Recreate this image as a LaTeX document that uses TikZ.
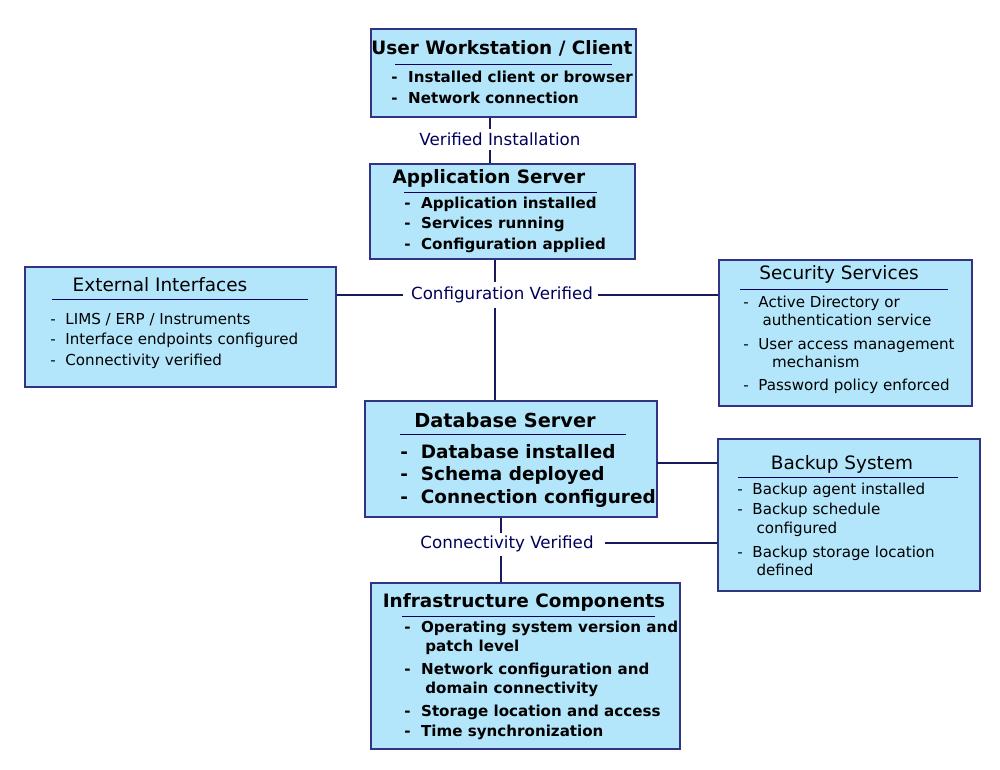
\documentclass[tikz,border=0pt]{standalone}
\usepackage{fontspec}
\setmainfont{DejaVu Sans}
\begin{document}
\begin{tikzpicture}[x=0.02cm,y=-0.02cm,
  box/.style={draw=blue!40!black!80,line width=0.8pt,fill=cyan!30!white,inner sep=0pt},
  ttl/.style={anchor=center,inner sep=0pt,font=\fontsize{10.5}{12}\selectfont},
  itm/.style={anchor=west,inner sep=0pt,align=left,font=\fontsize{8.6}{10.6}\selectfont\bfseries},
  itn/.style={anchor=west,inner sep=0pt,align=left,font=\fontsize{8.6}{10.6}\selectfont},
  ul/.style={draw=blue!40!black,line width=0.5pt},
  con/.style={draw=blue!30!black!90,line width=1.2pt},
  lbl/.style={text=blue!35!black,inner sep=0pt,font=\fontsize{9.5}{11}\selectfont}]
\useasboundingbox (0,0) rectangle (1000,770);
% boxes
\node[box,minimum width=265*0.02cm,minimum height=88*0.02cm] (uw) at (503.5,73) {};
\node[box,minimum width=265*0.02cm,minimum height=95*0.02cm] (as) at (502.5,211.5) {};
\node[box,minimum width=311*0.02cm,minimum height=120*0.02cm] (ei) at (180.5,327) {};
\node[box,minimum width=253*0.02cm,minimum height=146*0.02cm] (ss) at (845.5,333) {};
\node[box,minimum width=292*0.02cm,minimum height=116*0.02cm] (db) at (511,459) {};
\node[box,minimum width=262*0.02cm,minimum height=152*0.02cm] (bs) at (849,515) {};
\node[box,minimum width=309*0.02cm,minimum height=166*0.02cm] (ic) at (525.5,666) {};
% user workstation
\node[ttl,font=\fontsize{10.5}{12}\selectfont\bfseries] (uwt) at (502,48) {User Workstation / Client};
\draw[ul] (395,64) -- (612,64);
\node[itm] (uw1) at (391,77) {-\ \ Installed client or browser};
\node[itm] (uw2) at (391,98) {-\ \ Network connection};
% application server
\node[ttl,font=\fontsize{10.5}{12}\selectfont\bfseries] (ast) at (489,178) {Application Server};
\draw[ul] (404,192) -- (597,192);
\node[itm] (as1) at (404,204) {-\ \ Application installed};
\node[itm] (as2) at (404,224) {-\ \ Services running};
\node[itm] (as3) at (404,245) {-\ \ Configuration applied};
% external
\node[ttl] (eit) at (160,285) {External Interfaces};
\draw[ul] (52,299) -- (308,299);
\node[itn] (ei1) at (50,320) {-\ \ LIMS / ERP / Instruments};
\node[itn] (ei2) at (50,340) {-\ \ Interface endpoints configured};
\node[itn] (ei3) at (50,361) {-\ \ Connectivity verified};
% security
\node[ttl] (sst) at (839,274) {Security Services};
\draw[ul] (740,289) -- (948,289);
\node[itn] (ss1) at (743,311) {-\ \ Active Directory or\\\ \ \ \ authentication service};
\node[itn] (ss2) at (743,353) {-\ \ User access management\\\ \ \ \ \ \ mechanism};
\node[itn] (ss3) at (743,386) {-\ \ Password policy enforced};
% database
\node[ttl,font=\fontsize{11}{13}\selectfont\bfseries] (dbt) at (505,420) {Database Server};
\draw[ul] (400,434) -- (626,434);
\node[itm,font=\fontsize{10.5}{12}\selectfont\bfseries] (db1) at (400,452) {-\ \ Database installed};
\node[itm,font=\fontsize{10.5}{12}\selectfont\bfseries] (db2) at (400,475) {-\ \ Schema deployed};
\node[itm,font=\fontsize{10.5}{12}\selectfont\bfseries] (db3) at (400,498) {-\ \ Connection configured};
% backup
\node[ttl] (bst) at (842,464) {Backup System};
\draw[ul] (738,477) -- (958,477);
\node[itn] (bs1) at (737,490) {-\ \ Backup agent installed};
\node[itn] (bs2) at (737,520) {-\ \ Backup schedule\\\ \ \ \ configured};
\node[itn] (bs3) at (737,561) {-\ \ Backup storage location\\\ \ \ \ defined};
% infrastructure
\node[ttl,font=\fontsize{10.5}{12}\selectfont\bfseries] (ict) at (524,602) {Infrastructure Components};
\draw[ul] (402,616) -- (655,616);
\node[itm] (ic1) at (404,638) {-\ \ Operating system version and\\\ \ \ \ patch level};
\node[itm] (ic2) at (404,680) {-\ \ Network configuration and\\\ \ \ \ domain connectivity};
\node[itm] (ic3) at (404,712) {-\ \ Storage location and access};
\node[itm] (ic4) at (404,732) {-\ \ Time synchronization};
% connector labels
\node[lbl] (l1) at (500,139) {Verified Installation};
\node[lbl] (l2) at (502,295) {Configuration Verified};
\node[lbl] (l3) at (507,544) {Connectivity Verified};
% connectors
\coordinate (a1) at (490,129); \coordinate (a2) at (490,150);
\draw[con] (uw.south -| a1) -- (a1);
\draw[con] (a2) -- (as.north -| a2);
\coordinate (b1) at (495,282); \coordinate (b2) at (495,308);
\draw[con] (as.south -| b1) -- (b1);
\draw[con] (b2) -- (db.north -| b2);
\coordinate (c1) at (403,295); \coordinate (c2) at (598,295);
\draw[con] (ei.east |- c1) -- (c1);
\draw[con] (c2) -- (ss.west |- c2);
\coordinate (d1) at (657,463);
\draw[con] (d1) -- (bs.west |- d1);
\coordinate (e1) at (501,533); \coordinate (e2) at (501,556); \coordinate (e3) at (605,543);
\draw[con] (db.south -| e1) -- (e1);
\draw[con] (e2) -- (ic.north -| e2);
\draw[con] (e3) -- (bs.west |- e3);
\end{tikzpicture}
\end{document}
